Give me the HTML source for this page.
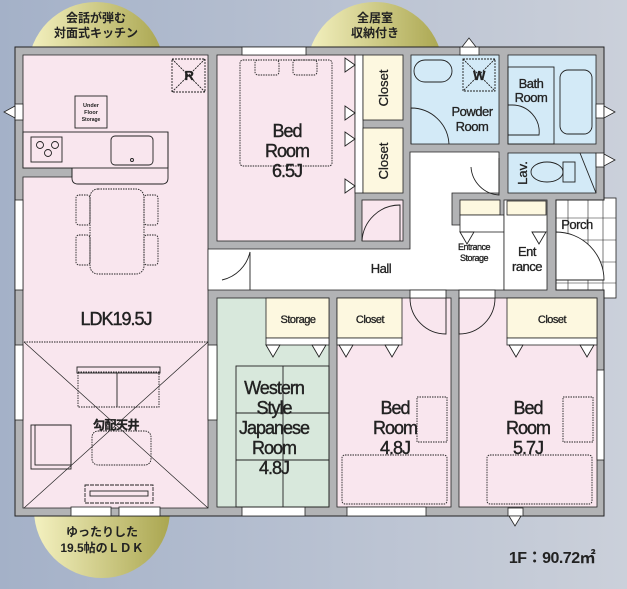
<!DOCTYPE html>
<html><head><meta charset="utf-8"><style>
html,body{margin:0;padding:0;width:627px;height:589px;overflow:hidden}
svg{display:block}
text{font-family:"Liberation Sans","Noto Sans CJK JP",sans-serif;fill:#222}
</style></head><body>
<svg width="627" height="589" viewBox="0 0 627 589" xmlns="http://www.w3.org/2000/svg">
<defs>
<linearGradient id="bg" x1="0" y1="0" x2="1" y2="0"><stop offset="0" stop-color="#a4b1c8"/><stop offset="1" stop-color="#cbd0da"/></linearGradient>
<linearGradient id="bub" x1="0" y1="0" x2="1" y2="0"><stop offset="0" stop-color="#f4f1c0"/><stop offset="1" stop-color="#aaa650"/></linearGradient>
</defs>
<rect width="627" height="589" fill="url(#bg)"/>
<circle cx="96" cy="70" r="68" fill="url(#bub)"/>
<circle cx="375" cy="70" r="68" fill="url(#bub)"/>
<circle cx="102" cy="510" r="68" fill="url(#bub)"/>
<g font-size="12" font-weight="bold" text-anchor="middle">
<text x="96" y="22">会話が弾む</text><text x="96" y="37">対面式キッチン</text>
<text x="375" y="22">全居室</text><text x="375" y="37">収納付き</text>
<text x="102" y="536">ゆったりした</text><text x="102" y="552">19.5帖のＬＤＫ</text>
</g>
<rect x="548" y="198" width="68" height="100" fill="#fff" stroke="#222" stroke-width="0.8"/>
<g stroke="#222" stroke-width="0.6">
<line x1="568" y1="198" x2="568" y2="298"/><line x1="588" y1="198" x2="588" y2="298"/><line x1="603" y1="198" x2="603" y2="298"/>
<line x1="548" y1="218" x2="616" y2="218"/><line x1="548" y1="240" x2="616" y2="240"/><line x1="548" y1="262" x2="616" y2="262"/><line x1="548" y1="283" x2="616" y2="283"/>
</g>
<path d="M15 47 H604 V200 H556 V290 H604 V516 H15 Z" fill="#b2b3b5" stroke="#222" stroke-width="1"/>
<g stroke="#222" stroke-width="0.8">
<path d="M23 55 H208 V508 H23 V177 H72 V168 H23 Z" fill="#f9e6ee"/>
<rect x="217" y="55" width="138" height="186" fill="#f9e6ee"/>
<rect x="355" y="55" width="8" height="138" fill="#fff"/>
<rect x="363" y="55" width="40" height="65" fill="#fdf8e0"/>
<rect x="363" y="128" width="40" height="65" fill="#fdf8e0"/>
<rect x="362" y="200" width="41" height="41" fill="#f9e6ee"/>
<path d="M208 249 H410 V152 H499 V193 H452 V225 H504 V290 H216 V290 H208 Z" fill="#fff"/>
<rect x="411" y="55" width="88" height="89" fill="#d3eaf7"/>
<rect x="508" y="55" width="88" height="89" fill="#d3eaf7"/>
<rect x="508" y="153" width="88" height="40" fill="#d3eaf7"/>
<rect x="460" y="200" width="40" height="15" fill="#fdf8e0"/>
<rect x="460" y="215" width="44" height="17" fill="#fff"/>
<rect x="504" y="200" width="43" height="90" fill="#fff"/>
<rect x="507" y="201" width="39" height="14" fill="#fdf8e0"/>
<rect x="217" y="298" width="112" height="209" fill="#d8e8dc"/>
<rect x="266" y="298" width="63" height="40" fill="#fdf8e0"/>
<rect x="266" y="338" width="63" height="7" fill="#fff"/>
<rect x="337" y="298" width="114" height="209" fill="#f9e6ee"/>
<rect x="337" y="298" width="65" height="40" fill="#fdf8e0"/>
<rect x="337" y="338" width="65" height="7" fill="#fff"/>
<rect x="410" y="290" width="36" height="8" fill="#fff"/>
<rect x="459" y="298" width="138" height="209" fill="#f9e6ee"/>
<rect x="507" y="298" width="90" height="40" fill="#fdf8e0"/>
<rect x="507" y="338" width="90" height="7" fill="#fff"/>
<rect x="459" y="290" width="36" height="8" fill="#fff"/>
<rect x="242" y="47" width="64" height="8" fill="#fff"/>
<rect x="71" y="507" width="40" height="9" fill="#fff"/><rect x="119" y="507" width="41" height="9" fill="#fff"/>
<rect x="242" y="507" width="63" height="9" fill="#fff"/>
<rect x="347" y="507" width="79" height="9" fill="#fff"/>
<rect x="15" y="200" width="8" height="90" fill="#fff"/><rect x="15" y="345" width="8" height="75" fill="#fff"/>
<rect x="208" y="345" width="9" height="75" fill="#fff"/>
<rect x="597" y="370" width="7" height="90" fill="#fff"/>
<rect x="15" y="104" width="8" height="16" fill="#fff"/>
<rect x="460" y="47" width="19" height="8" fill="#fff"/>
<rect x="596" y="104" width="8" height="14" fill="#fff"/><rect x="596" y="153" width="8" height="14" fill="#fff"/>
<rect x="508" y="508" width="15" height="8" fill="#fff"/>
</g>
<g fill="#fff" stroke="#222" stroke-width="0.8">
<path d="M15 106 L4 112 L15 118 Z"/><path d="M604 106 L615 112 L604 118 Z"/><path d="M604 154 L615 160 L604 166 Z"/>
<path d="M462 47 L469 38 L476 47 Z"/><path d="M509 516 L515 526 L521 516 Z"/>
</g>
<g fill="none" stroke="#222" stroke-width="0.9">
<rect x="23" y="132" width="145" height="36" fill="#f9e6ee"/>
<path d="M72 168 V178 Q72 184 78 184 H162 Q168 184 168 178 V132"/>
<rect x="31" y="137" width="31" height="25"/>
<circle cx="40" cy="145" r="3.5"/><circle cx="55" cy="145" r="3.5"/><circle cx="48" cy="153" r="3.5"/>
<rect x="111" y="136" width="42" height="29" rx="4"/>
<circle cx="132" cy="160" r="1.5"/>
<rect x="75" y="96" width="32" height="32"/>
<rect x="172" y="59" width="33" height="33" stroke-dasharray="2 1"/>
<path d="M172 59 L205 92 M205 59 L172 92" stroke-dasharray="2 1"/>
<g stroke-dasharray="1.5 1"><rect x="90" y="189" width="54" height="85" rx="8"/>
<rect x="76" y="195" width="14" height="30" rx="3"/><rect x="76" y="235" width="14" height="30" rx="3"/>
<rect x="144" y="195" width="14" height="30" rx="3"/><rect x="144" y="235" width="14" height="30" rx="3"/>
<path d="M24 342 H208"/>
<rect x="240" y="60" width="92" height="106" rx="3"/>
<rect x="255" y="60" width="24" height="15" rx="3"/><rect x="293" y="60" width="24" height="15" rx="3"/>
<rect x="92" y="431" width="59" height="34" rx="6"/>
<rect x="78" y="372" width="81" height="35"/>
<rect x="342" y="455" width="105" height="49" rx="3"/><rect x="417" y="397" width="30" height="45"/>
<rect x="487" y="455" width="105" height="49" rx="3"/><rect x="563" y="397" width="30" height="45"/>
</g>
<path d="M24 342 L208 508 M208 342 L24 508" stroke-width="0.7"/>
<rect x="77" y="367" width="83" height="6"/><path d="M117 373 V407"/>
<rect x="31" y="425" width="40" height="44"/><rect x="35" y="425" width="36" height="40"/>
<rect x="85" y="485" width="68" height="18" stroke-dasharray="4 1"/><rect x="90" y="491" width="58" height="5"/>
<path d="M400 241 V205 A38 38 0 0 0 362 241" /><path d="M250 290 V252 A37 37 0 0 1 222 280"/>
<path d="M411 144 V108 A38 38 0 0 1 449 144"/>
<path d="M508 105 H512 A27 27 0 0 1 539 135 H508"/>
<path d="M499 158 V195 A30 30 0 0 1 471 167"/>
<path d="M410 298 A36 36 0 0 0 446 334 V298"/><path d="M495 298 A36 36 0 0 1 459 334 V298"/>
<path d="M556 232 A48 48 0 0 1 604 280 H556 Z" fill="#fff"/>
<rect x="414" y="60" width="38" height="22" rx="11"/>
<rect x="463" y="59" width="32" height="32" stroke-dasharray="2 1"/><path d="M463 59 L495 91 M495 59 L463 91" stroke-dasharray="2 1"/>
<rect x="508" y="67" width="46" height="77"/><rect x="560" y="70" width="32" height="64" rx="8"/>
<ellipse cx="547" cy="172" rx="16" ry="10"/><rect x="563" y="162" width="12" height="20"/>
<path d="M580 153 L596 193"/>
<rect x="236" y="366" width="93" height="141"/><path d="M283 366 V507 M236 413 H329 M236 460 H329"/>
<path d="M345 58 L355 65 L345 72 Z M345 106 L355 113 L345 120 Z M345 132 L355 139 L345 146 Z M345 179 L355 186 L345 193 Z" fill="#fff"/>
<path d="M266 345 L273 357 L280 345 Z M312 345 L319 357 L326 345 Z M339 345 L346 357 L353 345 Z M385 345 L392 357 L399 345 Z M509 345 L516 357 L523 345 Z M580 345 L587 357 L594 345 Z M460 232 L467 244 L474 232 Z M532 232 L539 244 L546 232 Z" fill="#fff"/>
</g>
<g font-size="7" font-weight="bold" text-anchor="middle"><text x="91" y="107" font-size="5.5">Under</text><text x="91" y="114" font-size="5.5">Floor</text><text x="91" y="121" font-size="5">Storage</text></g>
<g font-size="18" text-anchor="middle" letter-spacing="-1" stroke="#222" stroke-width="0.4">
<text x="287" y="137">Bed</text><text x="287" y="157">Room</text><text x="287" y="177">6.5J</text>
<text x="116" y="325">LDK19.5J</text>
<text x="274" y="394">Western</text><text x="274" y="414">Style</text><text x="274" y="434">Japanese</text><text x="274" y="454">Room</text><text x="274" y="474">4.8J</text>
<text x="395" y="414">Bed</text><text x="395" y="434">Room</text><text x="395" y="454">4.8J</text>
<text x="528" y="414">Bed</text><text x="528" y="434">Room</text><text x="528" y="454">5.7J</text>
</g>
<g font-size="13" text-anchor="middle" letter-spacing="-0.5" stroke="#222" stroke-width="0.3">
<text x="472" y="116">Powder</text><text x="472" y="131">Room</text>
<text x="531" y="88">Bath</text><text x="531" y="102">Room</text>
<text x="381" y="273">Hall</text>
<text x="577" y="229">Porch</text>
<text x="527" y="256">Ent</text><text x="527" y="271">rance</text>
<text x="298" y="323" font-size="11">Storage</text><text x="370" y="323" font-size="11">Closet</text><text x="552" y="323" font-size="11">Closet</text>
<text x="189" y="80" font-size="13" font-weight="bold">R</text><text x="479" y="80" font-size="13" font-weight="bold">W</text>
<text x="474" y="250" font-size="9">Entrance</text><text x="474" y="261" font-size="9">Storage</text>
<text x="116" y="429" font-size="12" font-weight="bold">勾配天井</text>
</g>
<g font-size="13" text-anchor="middle" stroke="#222" stroke-width="0.3">
<text transform="translate(388,88) rotate(-90)">Closet</text>
<text transform="translate(388,161) rotate(-90)">Closet</text>
<text transform="translate(527,173) rotate(-90)">Lav.</text>
</g>
<text x="552" y="563" font-size="16" font-weight="bold" text-anchor="middle" letter-spacing="-0.5">1F：90.72㎡</text>
</svg>
</body></html>
